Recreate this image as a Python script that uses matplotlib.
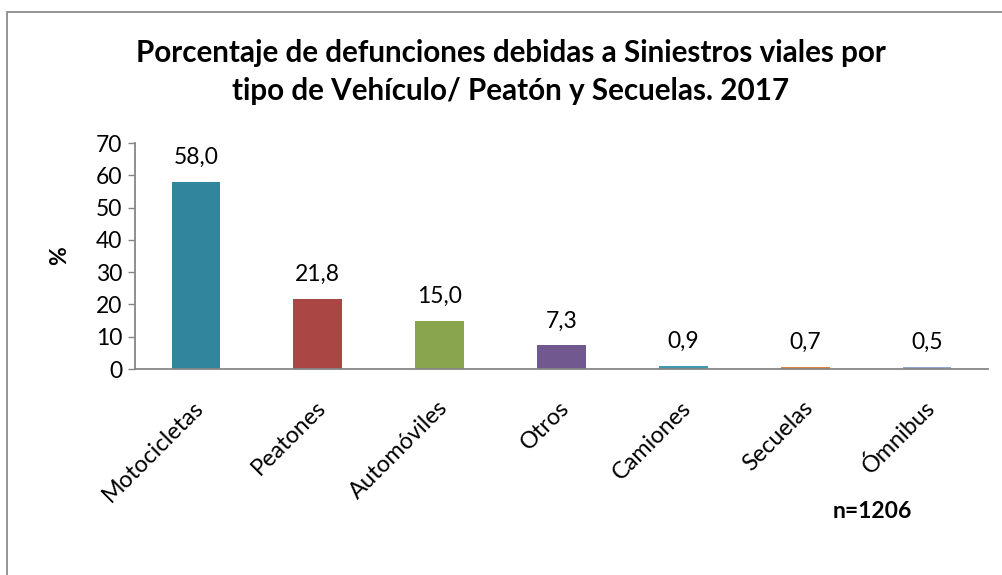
import matplotlib
matplotlib.use("Agg")
import matplotlib.pyplot as plt
from matplotlib.patches import Rectangle
import matplotlib.transforms as mtransforms

categories = ["Motocicletas", "Peatones", "Automóviles", "Otros", "Camiones", "Secuelas", "Ómnibus"]
values = [58.0, 21.8, 15.0, 7.3, 0.9, 0.7, 0.5]
value_labels = ["58,0", "21,8", "15,0", "7,3", "0,9", "0,7", "0,5"]
colors = ["#31859C", "#AA4643", "#89A54E", "#71588F", "#4198AF", "#DB843D", "#93A9CF"]
yticks = [0, 10, 20, 30, 40, 50, 60, 70]
title = "Porcentaje de defunciones debidas a Siniestros viales por\ntipo de Vehículo/ Peatón y Secuelas. 2017"
note = "n=1206"

plt.rcParams['font.family'] = ['Lato', 'DejaVu Sans']

W, H = 1002, 575
fig = plt.figure(figsize=(W / 100, H / 100), dpi=100)

# outer chart border
fig.patches.append(Rectangle((7 / W, -0.1), 1.2, (H - 11.5) / H + 0.1, transform=fig.transFigure,
                             fill=False, edgecolor="#8C8C8C", linewidth=1.3))

FS = 16.5
ax = fig.add_axes([135 / W, (H - 369) / H, (988 - 135) / W, (369 - 143) / H])
x = list(range(len(categories)))
ax.bar(x, values, width=0.4, color=colors)
ax.set_xlim(-0.5, len(categories) - 0.5)
ax.set_ylim(0, 70)
ax.set_yticks(yticks)
ax.set_yticklabels([str(t) for t in yticks], fontsize=FS)
ax.tick_params(axis='y', direction='out', length=5, width=1, color="#868686", pad=4)
ax.set_xticks([])
for s in ['top', 'right']:
    ax.spines[s].set_visible(False)
for s in ['left', 'bottom']:
    ax.spines[s].set_color("#868686")
    ax.spines[s].set_linewidth(1.3)

for xi, v, lab in zip(x, values, value_labels):
    ax.annotate(lab, (xi, v), xytext=(0, 13), textcoords='offset points',
                ha='center', va='baseline', fontsize=FS)

offset = mtransforms.ScaledTranslation(-3 / 100, -28 / 100, fig.dpi_scale_trans)
trans = ax.get_xaxis_transform() + offset
for xi, c in zip(x, categories):
    ax.text(xi, 0, c, transform=trans, rotation=45, rotation_mode='anchor',
            ha='right', va='top', fontsize=16.8)

fig.text(60 / W, 1 - 256 / H, "%", rotation=90, ha='center', va='center', fontsize=FS, fontweight='bold')
fig.text(511 / W, 1 - 72 / H, title, ha='center', va='center', fontsize=21.3, fontweight='bold',
         linespacing=1.4)
fig.text(872 / W, 1 - 512 / H, note, ha='center', va='center', fontsize=16.5, fontweight='bold')

fig.savefig("out.png", dpi=100)
